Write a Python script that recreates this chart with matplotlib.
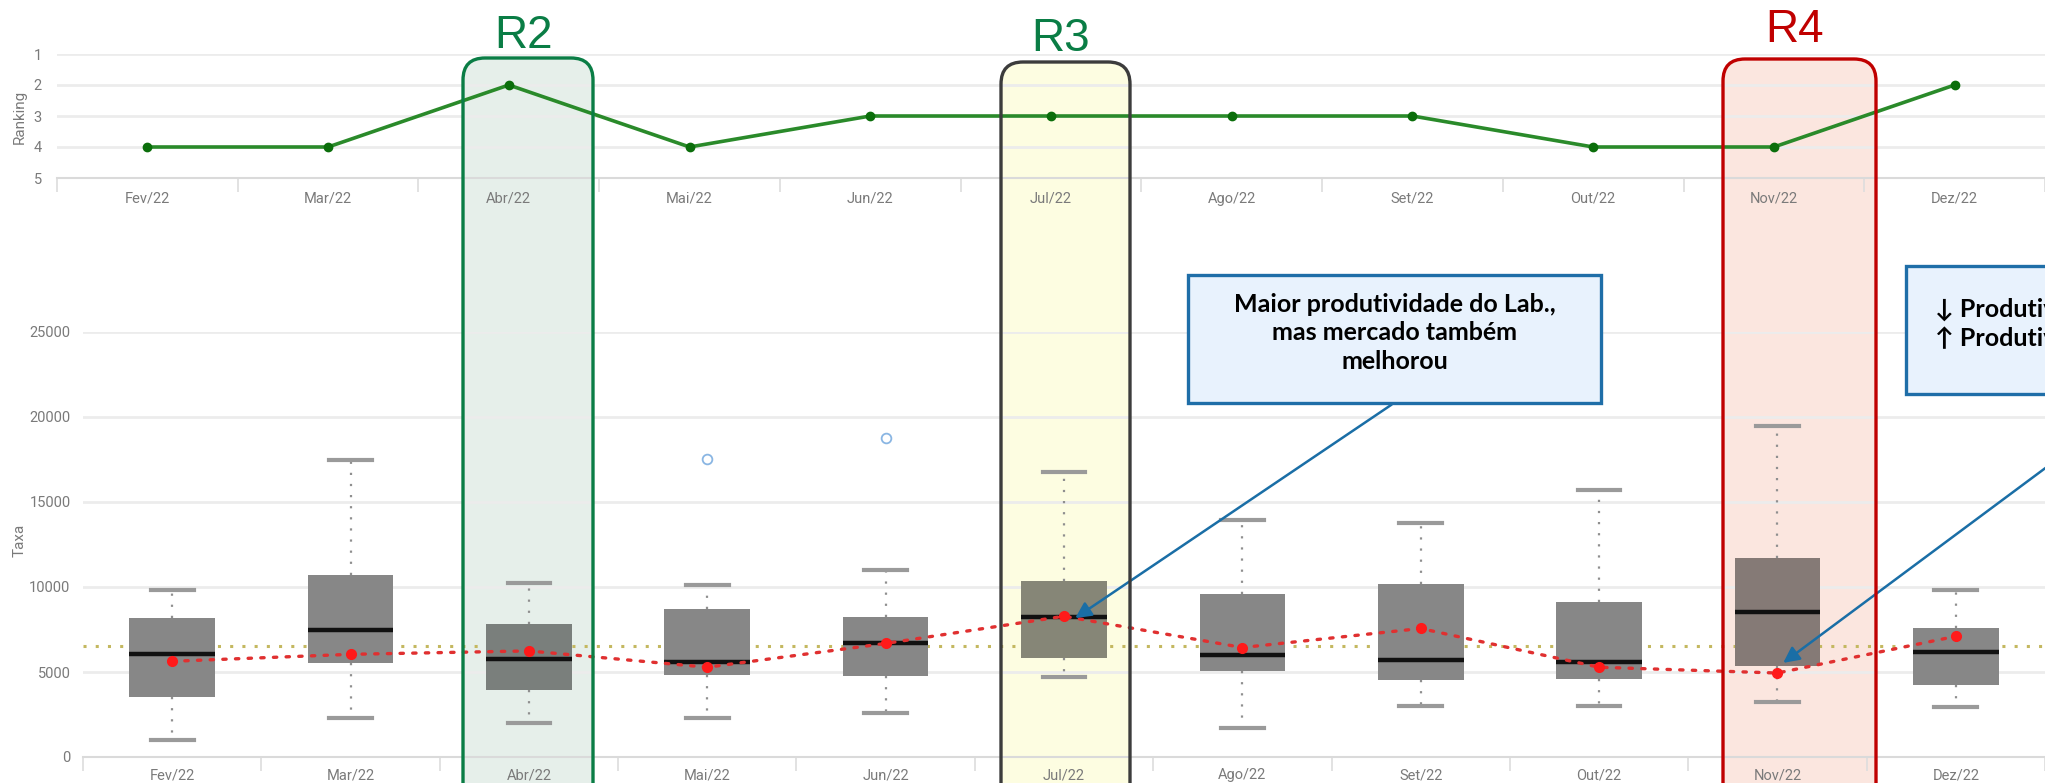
import matplotlib
matplotlib.use("Agg")
import matplotlib.pyplot as plt
from matplotlib import font_manager
from matplotlib.patches import FancyBboxPatch, Rectangle
from matplotlib.transforms import IdentityTransform

# --- data ---
months = ["Fev/22", "Mar/22", "Abr/22", "Mai/22", "Jun/22", "Jul/22",
          "Ago/22", "Set/22", "Out/22", "Nov/22", "Dez/22"]
ranking = [4, 4, 2, 4, 3, 3, 3, 3, 4, 4, 2]

whisker_low = [1020, 2290, 2000, 2280, 2560, 4680, 1720, 3000, 3000, 3260, 2920]
q1 = [3530, 5530, 3920, 4840, 4760, 5820, 5080, 4540, 4600, 5340, 4240]
median = [6040, 7450, 5760, 5560, 6680, 8220, 5980, 5680, 5600, 8520, 6160]
q3 = [8180, 10730, 7800, 8680, 8240, 10360, 9560, 10200, 9140, 11700, 7600]
whisker_high = [9800, 17450, 10220, 10140, 11000, 16740, 13960, 13760, 15680, 19480, 9800]
lab_mean = [5630, 6040, 6240, 5280, 6680, 8280, 6440, 7560, 5280, 4940, 7100]
outliers = {"Mai/22": [17540], "Jun/22": [18780]}
market_ref = 6530

highlights = {
    # month: (label, label colour, edge colour, fill colour)
    "Abr/22": ("R2", "#0a7d45", "#0a7d45", "#e6efea"),
    "Jul/22": ("R3", "#0a7d45", "#3c3c3c", "#fdfde1"),
    "Nov/22": ("R4", "#c00000", "#c00000", "#fbe6df"),
}

note1 = "Maior produtividade do Lab.,\nmas mercado também\nmelhorou"
note2 = "↓ Produtividade do Lab.\n↑ Produtividade do mercado"

W, H = 2045, 783
names = {f.name for f in font_manager.fontManager.ttflist}
tick_font = "Liberation Sans Narrow" if "Liberation Sans Narrow" in names else "Roboto"
label_gray = "#7a7a7a"
grid_gray = "#ececec"
box_gray = "#878787"

fig = plt.figure(figsize=(W / 100, H / 100), dpi=100)
fig.patch.set_facecolor("white")


def px(x, y_top):
    # figure pixels measured from the top edge
    return x, H - y_top


x = list(range(len(months)))

# --- top panel: ranking ---
ax1 = fig.add_axes([57 / W, 1 - 178 / H, (W - 57) / W, 124 / H])
ax1.set_facecolor("none")
ax1.plot(x, ranking, color="#2a8a2a", lw=2.6, marker="o", ms=6,
         mfc="#0b6e0b", mec="#0b6e0b", zorder=3, clip_on=False)
ax1.set_ylim(5, 1)
ax1.set_yticks([1, 2, 3, 4, 5])
ax1.set_xlim(-0.5, -0.5 + (W - 57) / 182.1)

# --- bottom panel: boxplots ---
ax2 = fig.add_axes([83 / W, 1 - 757 / H, (W - 83) / W, 425 / H])
ax2.set_facecolor("none")
stats = []
for i, m in enumerate(months):
    stats.append(dict(med=median[i], q1=q1[i], q3=q3[i], whislo=whisker_low[i],
                      whishi=whisker_high[i], fliers=outliers.get(m, []), label=m))
bp = ax2.bxp(stats, positions=x, widths=0.48, patch_artist=True, showcaps=True,
             capwidths=0.24,
             boxprops=dict(facecolor=box_gray, edgecolor="none"),
             medianprops=dict(color="#111111", lw=3.2),
             whiskerprops=dict(color="#8f8f8f", lw=1.6, linestyle=(0, (1, 4))),
             capprops=dict(color="#9a9a9a", lw=3),
             flierprops=dict(marker="o", mfc="none", mec="#8ab6e3", ms=7, mew=1.3))
for m, box in zip(months, bp["boxes"]):
    box.set_zorder(2)
    if m in highlights:
        # tint the box the way the highlight overlay does
        fill = matplotlib.colors.to_rgb(highlights[m][3])
        g = matplotlib.colors.to_rgb(box_gray)
        box.set_facecolor(tuple(a * b for a, b in zip(g, fill)))

ax2.axhline(market_ref, color="#c4b860", lw=2.2, linestyle=(0, (1, 3)), zorder=1)
ax2.plot(x, lab_mean, color="#e03030", lw=2.4, linestyle=(0, (1, 2.8)),
         dash_capstyle="round", zorder=4)
ax2.plot(x, lab_mean, "o", color="#ff1a1a", ms=7, zorder=5)
ax2.set_ylim(0, 25000)
ax2.set_yticks(range(0, 25001, 5000))
ax2.set_xlim(-0.5, -0.5 + (W - 83) / 180.1)

for ax, pad_x, pad_y in [(ax1, 10, 11), (ax2, 8, 9)]:
    ax.set_xticks(x)
    ax.set_xticklabels(months)
    ax.set_xticks([i - 0.5 for i in range(len(months) + 1)], minor=True)
    ax.tick_params(axis="x", which="major", length=0, pad=pad_x, labelsize=10.5,
                   labelcolor=label_gray)
    ax.tick_params(axis="x", which="minor", length=10, color="#dddddd", width=1.2)
    ax.tick_params(axis="y", length=0, pad=pad_y, labelsize=10.5, labelcolor=label_gray)
    for lab in ax.get_xticklabels() + ax.get_yticklabels():
        lab.set_family(tick_font)
    ax.grid(axis="y", color=grid_gray, lw=2)
    ax.set_axisbelow(True)
    for s in ["top", "right", "left"]:
        ax.spines[s].set_visible(False)
    ax.spines["bottom"].set_color("#dadada")
    ax.spines["bottom"].set_linewidth(1.5)

# axis titles sit close to the left edge
fig.text(*px(20, 117), "Ranking", transform=IdentityTransform(), rotation=90,
         ha="center", va="center", color=label_gray, fontsize=11, family=tick_font)
fig.text(*px(20, 540), "Taxa", transform=IdentityTransform(), rotation=90,
         ha="center", va="center", color=label_gray, fontsize=11, family=tick_font)

# --- highlight columns (R2, R3, R4) ---
box_geom = {"Abr/22": (463, 593, 58, 48), "Jul/22": (1001, 1130, 62, 51),
            "Nov/22": (1723, 1876, 59, 42)}
for m, (label, lcol, ecol, fcol) in highlights.items():
    x0, x1, top, text_base = box_geom[m]
    bx, by = px(x0, top)
    for filled in (True, False):
        p = FancyBboxPatch((bx, -60), x1 - x0, by + 60,
                           boxstyle="round,pad=0,rounding_size=22",
                           transform=IdentityTransform(),
                           facecolor=fcol if filled else "none",
                           edgecolor="none" if filled else ecol,
                           lw=0 if filled else 2.4,
                           zorder=-1 if filled else 10)
        fig.add_artist(p)
    tx, ty = px((x0 + x1) / 2 - 5, text_base)
    fig.text(tx, ty, label, transform=IdentityTransform(), ha="center", va="baseline",
             fontsize=33, color=lcol, family="Liberation Sans")

# --- callout boxes ---
callouts = [(note1, 1188, 1601, 275, 403, "center"),
            (note2, 1906, 2200, 266, 394, "left")]
for text, x0, x1, top, bottom, align in callouts:
    bx, by = px(x0, bottom)
    fig.add_artist(Rectangle((bx, by), x1 - x0, bottom - top, transform=IdentityTransform(),
                             facecolor="#e8f2fd", edgecolor="#1f6ea8", lw=2.4, zorder=11))
    tx = (x0 + x1) / 2 if align == "center" else x0 + 29
    fig.text(tx, H - (top + bottom) / 2 + 6, text, transform=IdentityTransform(),
             ha=align, va="center", ma=align, fontsize=18, fontweight="bold",
             family=["Lato", "DejaVu Sans"], linespacing=1.3, zorder=12)

arrow = dict(arrowstyle="-|>", color="#1a6ea6", lw=1.8, mutation_scale=24)
jul = months.index("Jul/22")
nov = months.index("Nov/22")
ann1 = ax2.annotate("", xy=(jul + 0.05, lab_mean[jul] - 200), xytext=px(1394, 403),
                    textcoords="figure pixels", arrowprops=arrow, annotation_clip=False)
ann2 = ax2.annotate("", xy=(nov + 0.02, lab_mean[nov] + 500), xytext=px(2145, 394),
                    textcoords="figure pixels", arrowprops=arrow, annotation_clip=False)
for a in (ann1, ann2):
    a.set_zorder(12)

fig.savefig("out.png", dpi=100)
